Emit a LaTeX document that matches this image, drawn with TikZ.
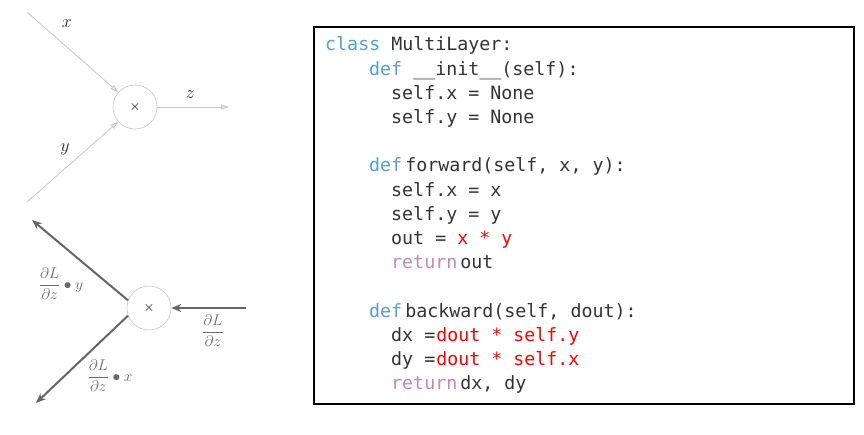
\documentclass[tikz,border=0pt]{standalone}
\usepackage{fix-cm}
\usepackage{amsmath,amssymb}
\usepackage{fontspec}
\usetikzlibrary{arrows.meta}
\newfontfamily\codefont{DejaVu Sans Mono}
\definecolor{kwblue}{HTML}{569CD6}
\definecolor{kwpurple}{HTML}{C586C0}
\definecolor{codered}{HTML}{FF0000}
\definecolor{codetext}{HTML}{333333}
\definecolor{lblgray}{HTML}{6A6A6A}
\newcommand{\kw}[1]{\textcolor{kwblue}{#1}}
\newcommand{\kwret}[1]{\textcolor{kwpurple}{#1}}
\newcommand{\hot}[1]{\textcolor{codered}{#1}}
\newcommand{\dLdz}{\dfrac{\partial L}{\partial z}}
\tikzset{
  mulnode/.style={circle,draw=gray!45,line width=0.6pt,minimum size=44pt,inner sep=0pt,
    font=\fontsize{14}{14}\selectfont},
  fwd/.style={draw=gray!45,line width=0.8pt,-{Triangle[length=8pt,width=5pt,fill=gray!20]}},
  bwd/.style={draw=black!60,line width=2pt,-{Stealth[length=10pt,width=8pt]}},
  codeline/.style={anchor=base west,inner sep=0pt,text=codetext,
    font=\codefont\fontsize{18.3}{22}\selectfont},
  fwdlbl/.style={text=black!85,font=\fontsize{18}{18}\selectfont},
  bwdlbl/.style={text=lblgray,font=\fontsize{15.5}{16}\selectfont}
}
\begin{document}
\begin{tikzpicture}[x=1pt,y=-1pt,>=stealth]
  \useasboundingbox (0,0) rectangle (864,435);
  % forward pass
  \node[mulnode] (mulF) at (135,107) {$\times$};
  \coordinate (xin) at (27,12);
  \coordinate (yin) at (27,202);
  \coordinate (zout) at (229,107);
  \draw[fwd] (xin) -- (mulF);
  \draw[fwd] (yin) -- (mulF);
  \draw[fwd] (mulF) -- (zout);
  \node[fwdlbl] (xlbl) at (67,24) {$x$};
  \node[fwdlbl] (ylbl) at (65,149) {$y$};
  \node[fwdlbl] (zlbl) at (190,95) {$z$};
  % backward pass
  \node[mulnode] (mulB) at (149,308) {$\times$};
  \coordinate (dzin) at (246,308);
  \coordinate (dxout) at (32,220);
  \coordinate (dyout) at (36,403);
  \draw[bwd] (dzin) -- (mulB);
  \draw[bwd] (mulB.160) -- (dxout);
  \draw[bwd] (mulB.200) -- (dyout);
  \node[bwdlbl] (dzlbl) at (213,331) {$\dLdz$};
  \node[bwdlbl] (dxlbl) at (61,284) {$\dLdz\bullet y$};
  \node[bwdlbl] (dylbl) at (110,376) {$\dLdz\bullet x$};
  % code
  \draw[line width=1.2pt] (314,27) rectangle (854,404);
  \node[codeline] (ln1) at (325,51) {\kw{class} MultiLayer:};
  \node[codeline] (ln2) at (369,75.2) {\kw{def} \_\_init\_\_(self):};
  \node[codeline] (ln3) at (391,99.4) {self.x = None};
  \node[codeline] (ln4) at (391,123.6) {self.y = None};
  \node[codeline] (ln5) at (369,172) {\kw{def}\kern3pt forward(self, x, y):};
  \node[codeline] (ln6) at (391,196.2) {self.x = x};
  \node[codeline] (ln7) at (391,220.4) {self.y = y};
  \node[codeline] (ln8) at (391,244.6) {out = \hot{x * y}};
  \node[codeline] (ln9) at (391,268.8) {\kwret{return}\kern3pt out};
  \node[codeline] (ln10) at (369,317.2) {\kw{def}\kern3pt backward(self, dout):};
  \node[codeline] (ln11) at (391,341.4) {dx =\kern1pt\hot{dout * self.y}};
  \node[codeline] (ln12) at (391,365.6) {dy =\kern1pt\hot{dout * self.x}};
  \node[codeline] (ln13) at (391,389.8) {\kwret{return}\kern3pt dx, dy};
\end{tikzpicture}
\end{document}
